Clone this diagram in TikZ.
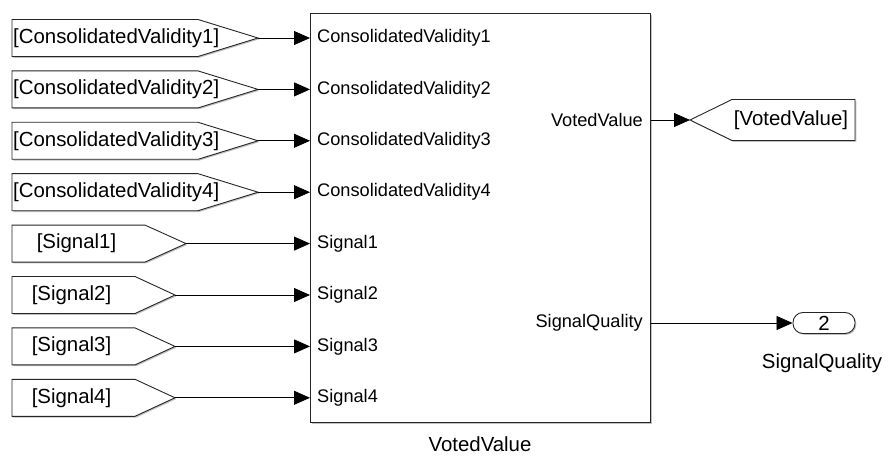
\documentclass[tikz,border=0pt]{standalone}
\usepackage{fontspec}
\setmainfont{Liberation Sans}
\usetikzlibrary{arrows.meta,shadows}
\tikzset{
	shd/.style={drop shadow={shadow xshift=1.3pt,shadow yshift=-1.3pt,opacity=.35,fill=black!70}},
	blk/.style={draw=black!85,line width=1.3pt,fill=white,shd},
	tagline/.style={draw=black!85,line width=.9pt,fill=white,shd},
	port/.style={font=\fontsize{18.2}{20}\selectfont,inner sep=0pt},
	tagtext/.style={font=\fontsize{20.4}{22}\selectfont,inner sep=0pt},
	sig/.style={line width=.8pt,-{Triangle[length=16pt,width=14pt]}},
}
\begin{document}
\begin{tikzpicture}[x=1pt,y=-1pt]
	\useasboundingbox (0,0) rectangle (888,457);
	% main block
	\node[blk,anchor=north west,minimum width=340pt,minimum height=409pt] (vv) at (310,13) {};
	\node[tagtext] (vvlbl) at (480,444) {VotedValue};
	% inports of the block
	\foreach \t[count=\k] in {ConsolidatedValidity1,ConsolidatedValidity2,ConsolidatedValidity3,ConsolidatedValidity4,Signal1,Signal2,Signal3,Signal4}
	\node[port,anchor=west] (in\k) at (317,{38+51.4*(\k-1)}) {\t};
	\node[port,anchor=east] (out1) at (643,120) {VotedValue};
	\node[port,anchor=east] (out2) at (643,323) {SignalQuality};
	% from tags
	\foreach \k in {1,...,4} {
		\pgfmathsetmacro\yc{38+51.4*(\k-1)}
		\draw[tagline] (12,\yc-18.5) -- (198,\yc-18.5) -- (258,\yc) coordinate (t\k) -- (198,\yc+18.5) -- (12,\yc+18.5) -- cycle;
		\node[tagtext,anchor=west] (tl\k) at (13,\yc) {[ConsolidatedValidity\k]};
	}
	\foreach \xr/\xt[count=\j] in {145/186,135/175,135/175,135/175} {
		\pgfmathtruncatemacro\k{\j+4}
		\pgfmathsetmacro\yc{38+51.4*(\k-1)}
		\draw[tagline] (12,\yc-18.5) -- (\xr,\yc-18.5) -- (\xt,\yc) coordinate (t\k) -- (\xr,\yc+18.5) -- (12,\yc+18.5) -- cycle;
		\node[tagtext] (tl\k) at ({(12+\xr)/2-2},\yc) {[Signal\j]};
	}
	\foreach \k in {1,...,8}
	\draw[sig] (t\k) -- (vv.west |- in\k);
	% goto tag and outport
	\draw[tagline] (690,120) coordinate (g1) -- (732,99.5) -- (855,99.5) -- (855,140.5) -- (732,140.5) -- cycle;
	\node[tagtext] (gl1) at (791,120) {[VotedValue]};
	\node[tagline,rounded corners=10pt,minimum width=62pt,minimum height=21pt,inner sep=0pt,font=\fontsize{20.4}{22}\selectfont] (op2) at (824,323) {2};
	\node[tagtext] (op2lbl) at (822,363) {SignalQuality};
	\draw[sig] (vv.east |- out1) -- (g1);
	\draw[sig] (vv.east |- op2) -- (op2.west);
\end{tikzpicture}
\end{document}
